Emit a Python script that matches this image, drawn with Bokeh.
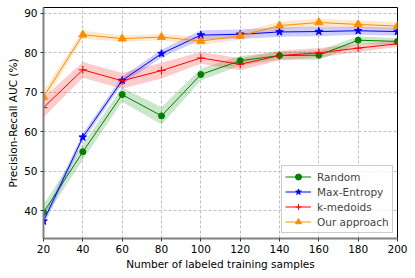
from bokeh.plotting import figure
from bokeh.models import Range1d, FixedTicker, Legend, LegendItem, ColumnDataSource
from bokeh.embed import file_html
from bokeh.resources import INLINE

samples = [20, 40, 60, 80, 100, 120, 140, 160, 180, 200]

random_mean = [39.5, 54.9, 69.4, 64.0, 74.5, 78.0, 79.3, 79.4, 83.2, 82.9]
random_std = [2.0, 2.0, 1.8, 2.2, 1.5, 1.2, 1.0, 1.2, 1.0, 0.8]

maxent_mean = [37.3, 58.6, 73.0, 79.8, 84.5, 84.7, 85.3, 85.4, 85.6, 85.4]
maxent_std = [1.2, 1.0, 1.0, 1.0, 1.2, 1.2, 1.2, 1.2, 1.0, 1.0]

kmed_mean = [66.1, 75.7, 72.9, 75.5, 78.7, 77.1, 79.3, 80.0, 81.2, 82.3]
kmed_std = [2.5, 2.0, 2.0, 2.0, 1.5, 1.5, 1.2, 1.2, 1.0, 0.8]

ours_mean = [68.8, 84.6, 83.6, 84.0, 83.0, 84.3, 86.9, 87.7, 87.2, 86.8]
ours_std = [1.5, 1.0, 0.8, 0.8, 1.0, 1.0, 1.0, 1.0, 1.0, 1.0]

x_ticks = [20, 40, 60, 80, 100, 120, 140, 160, 180, 200]
y_ticks = [40, 50, 60, 70, 80, 90]

series = [
    ("Random", random_mean, random_std, "green", "circle", 6),
    ("Max-Entropy", maxent_mean, maxent_std, "blue", "star", 8),
    ("k-medoids", kmed_mean, kmed_std, "red", "cross", 8),
    ("Our approach", ours_mean, ours_std, "darkorange", "triangle", 8),
]

font = "DejaVu Sans"
fs = "10.5px"

p = figure(frame_width=354, frame_height=231, output_backend="svg", toolbar_location=None,
           x_range=Range1d(20, 200), y_range=Range1d(32.9, 91.5),
           min_border_left=43, min_border_right=13, min_border_top=7, min_border_bottom=34)

p.outline_line_color = "black"
p.outline_line_width = 1

for ax in (p.xaxis, p.yaxis):
    ax.axis_line_color = "gray"
    ax.axis_line_width = 2
    ax.major_tick_line_color = "#333333"
    ax.major_tick_line_width = 1
    ax.minor_tick_line_color = None
    ax.major_tick_in = 0
    ax.major_tick_out = 3
    ax.major_label_standoff = 3
    ax.major_label_text_font = font
    ax.major_label_text_font_size = fs
    ax.major_label_text_color = "black"
    ax.axis_label_text_font = font
    ax.axis_label_text_font_size = fs
    ax.axis_label_text_font_style = "normal"
    ax.axis_label_text_color = "black"
    ax.axis_label_standoff = 2

p.xaxis.ticker = FixedTicker(ticks=x_ticks)
p.yaxis.ticker = FixedTicker(ticks=y_ticks)
p.xaxis.axis_label = "Number of labeled training samples"
p.yaxis.axis_label = "Precision-Recall AUC (%)"

p.grid.grid_line_color = "#b0b0b0"
p.grid.grid_line_dash = "3 2"
p.grid.grid_line_width = 0.8

for name, m, s, color, marker, size in series:
    src = ColumnDataSource(dict(x=samples, y=m,
                                lo=[a - b for a, b in zip(m, s)],
                                hi=[a + b for a, b in zip(m, s)]))
    p.varea(x="x", y1="lo", y2="hi", source=src, fill_color=color, fill_alpha=0.2)

items = []
for name, m, s, color, marker, size in series:
    src = ColumnDataSource(dict(x=samples, y=m))
    ln = p.line("x", "y", source=src, line_color=color, line_width=1)
    if marker == "cross":
        sc = p.scatter("x", "y", source=src, marker="cross", size=size, line_color=color, line_width=1)
    else:
        sc = p.scatter("x", "y", source=src, marker=marker, size=size, fill_color=color, line_color=color)
    items.append(LegendItem(label=name, renderers=[ln, sc]))

legend = Legend(items=items, location=(238, 5))
legend.label_text_font = font
legend.label_text_font_size = fs
legend.border_line_color = "#cccccc"
legend.border_line_alpha = 1
legend.background_fill_alpha = 0.8
legend.margin = 0
legend.padding = 3
legend.spacing = 0
legend.label_height = 15
legend.glyph_height = 15
legend.glyph_width = 26
legend.label_standoff = 6
p.add_layout(legend)

open("out.html", "w").write(file_html(p, INLINE))
